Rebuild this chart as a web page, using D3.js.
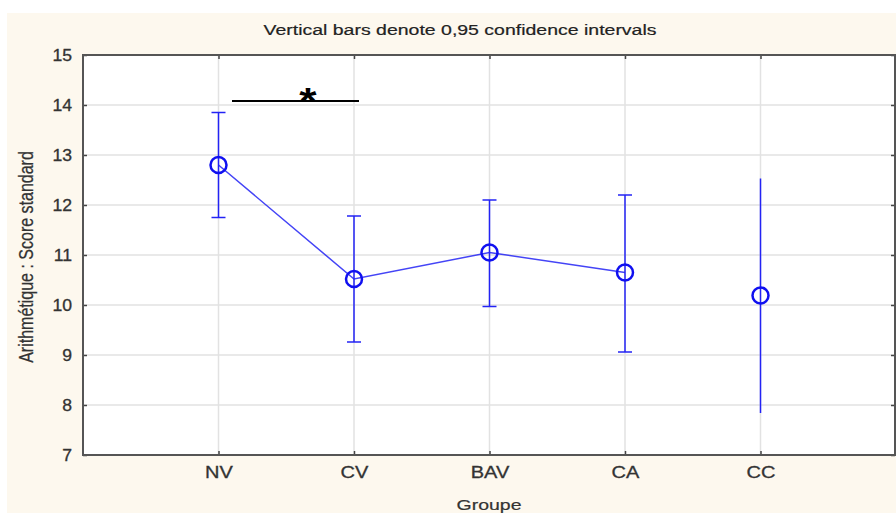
<!DOCTYPE html>
<html>
<head>
<meta charset="utf-8">
<script src="https://cdn.jsdelivr.net/npm/d3@7"></script>
<style>
  body { margin: 0; background: #fff; }
  svg { display: block; }
  text { font-family: Arial, "Liberation Sans", sans-serif; }
</style>
</head>
<body>
<svg></svg>
<script>
let groups = ['NV', 'CV', 'BAV', 'CA', 'CC']
let means = [12.8, 10.52, 11.05, 10.65, 10.19]
let lower = [11.75, 9.26, 9.97, 9.06, 7.84]
let upper = [13.85, 11.78, 12.1, 12.2, 12.53]
let yTicks = [7, 8, 9, 10, 11, 12, 13, 14, 15]

let width = 896
let height = 513
let plotLeft = 83
let plotRight = 895
let plotTop = 55
let plotBottom = 455

let svg = d3.select('svg').attr('width', width).attr('height', height)

// cream panel
svg.append('rect')
    .attr('x', 7).attr('y', 13)
    .attr('width', width - 7).attr('height', height - 13)
    .attr('fill', '#fdf8ee')

svg.append('rect')
    .attr('x', plotLeft).attr('y', plotTop)
    .attr('width', plotRight - plotLeft).attr('height', plotBottom - plotTop)
    .attr('fill', '#fff')

let xScale = d3.scaleLinear().domain([0, 6]).range([plotLeft, plotRight + 1])
let yScale = d3.scaleLinear().domain([7, 15]).range([plotBottom, plotTop])

// grid
svg.append('g').selectAll('line')
    .data(yTicks.slice(1, -1))
    .enter().append('line')
    .attr('x1', plotLeft).attr('x2', plotRight)
    .attr('y1', d => yScale(d)).attr('y2', d => yScale(d))
    .attr('stroke', '#e2e2e2').attr('stroke-width', 1.5)

svg.append('g').selectAll('line')
    .data(groups)
    .enter().append('line')
    .attr('x1', (d, i) => xScale(i + 1)).attr('x2', (d, i) => xScale(i + 1))
    .attr('y1', plotTop).attr('y2', plotBottom)
    .attr('stroke', '#e2e2e2').attr('stroke-width', 1.5)

// axes
let yAxis = d3.axisLeft(yScale).tickValues(yTicks).tickSizeInner(-4).tickSizeOuter(0).tickPadding(10)
let yAxisR = d3.axisRight(yScale).tickValues(yTicks).tickSizeInner(-4).tickSizeOuter(0).tickFormat('')
let xAxis = d3.axisBottom(xScale).tickValues([1, 2, 3, 4, 5]).tickSizeInner(-4).tickSizeOuter(0)
    .tickPadding(12).tickFormat(d => groups[d - 1])
let xAxisT = d3.axisTop(xScale).tickValues([1, 2, 3, 4, 5]).tickSizeInner(-4).tickSizeOuter(0).tickFormat('')

let styleAxis = (g, sx) => {
    g.select('.domain').remove()
    g.selectAll('line').attr('stroke', '#444').attr('stroke-width', 1.5)
    g.selectAll('text').attr('fill', '#333').attr('font-size', 16)
        .attr('stroke', '#333').attr('stroke-width', 0.3)
        .attr('transform', 'scale(' + sx + ',1)')
}

svg.append('g').attr('transform', 'translate(' + plotLeft + ',0)').call(yAxis).call(styleAxis, 1.1)
svg.append('g').attr('transform', 'translate(' + plotRight + ',0)').call(yAxisR).call(styleAxis, 1)
svg.append('g').attr('transform', 'translate(0,' + plotBottom + ')').call(xAxis).call(styleAxis, 1.25)
svg.append('g').attr('transform', 'translate(0,' + plotTop + ')').call(xAxisT).call(styleAxis, 1)

svg.append('rect')
    .attr('x', plotLeft).attr('y', plotTop)
    .attr('width', plotRight - plotLeft).attr('height', plotBottom - plotTop)
    .attr('fill', 'none').attr('stroke', '#555').attr('stroke-width', 2)

let blue = '#2323f5'

// line (CC not connected)
let line = d3.line()
    .x((d, i) => xScale(i + 1))
    .y(d => yScale(d))
svg.append('path')
    .datum(means.slice(0, 4))
    .attr('d', line)
    .attr('fill', 'none').attr('stroke', blue).attr('stroke-width', 1.5).attr('opacity', 0.85)

// error bars
let bars = svg.append('g')
groups.forEach((g, i) => {
    let x = xScale(i + 1)
    bars.append('line')
        .attr('x1', x).attr('x2', x)
        .attr('y1', yScale(lower[i])).attr('y2', yScale(upper[i]))
        .attr('stroke', blue).attr('stroke-width', 1.5)
    if (g !== 'CC') {
        [lower[i], upper[i]].forEach(v => {
            bars.append('line')
                .attr('x1', x - 7).attr('x2', x + 7)
                .attr('y1', yScale(v)).attr('y2', yScale(v))
                .attr('stroke', blue).attr('stroke-width', 1.5)
        })
    }
})

svg.append('g').selectAll('circle')
    .data(means)
    .enter().append('circle')
    .attr('cx', (d, i) => xScale(i + 1))
    .attr('cy', d => yScale(d))
    .attr('r', 8)
    .attr('fill', 'none').attr('stroke', '#1010f0').attr('stroke-width', 2.5)

// significance bar
svg.append('line')
    .attr('x1', 232).attr('x2', 359)
    .attr('y1', 101).attr('y2', 101)
    .attr('stroke', '#000').attr('stroke-width', 2)
svg.append('text')
    .attr('transform', 'translate(308,114) scale(1.2,1)')
    .attr('text-anchor', 'middle')
    .attr('font-size', 37).attr('font-weight', 'bold')
    .text('*')

// titles
svg.append('text')
    .attr('transform', 'translate(460,35) scale(1.3,1)')
    .attr('text-anchor', 'middle').attr('font-size', 15).attr('fill', '#222')
    .attr('stroke', '#222').attr('stroke-width', 0.2)
    .text('Vertical bars denote 0,95 confidence intervals')

svg.append('text')
    .attr('transform', 'translate(489,510) scale(1.3,1)')
    .attr('text-anchor', 'middle').attr('font-size', 15).attr('fill', '#333')
    .attr('stroke', '#333').attr('stroke-width', 0.2)
    .text('Groupe')

svg.append('text')
    .attr('transform', 'translate(33,257) scale(1.25,1) rotate(-90)')
    .attr('text-anchor', 'middle').attr('font-size', 16).attr('fill', '#333')
    .attr('stroke', '#333').attr('stroke-width', 0.2)
    .text('Arithmétique : Score standard')
</script>
</body>
</html>
